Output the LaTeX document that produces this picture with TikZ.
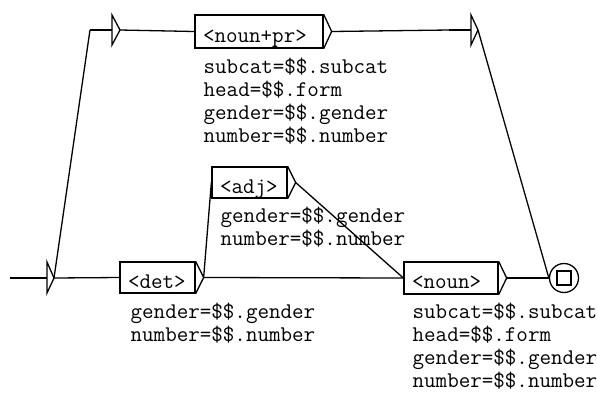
\documentclass[tikz,border=0pt]{standalone}
\usepackage{fontspec}
\newcommand\grfont{\ttfamily\fontsize{22.4}{23}\selectfont}
\newcommand\boxlab[2]{\makebox[#1][l]{#2}}
\begin{document}
\begin{tikzpicture}[x=1pt,y=-1pt,line width=1.3pt,
  box/.style={draw,rectangle,inner xsep=8pt,inner ysep=0pt,font=\grfont,text height=21pt,text depth=0pt},
  outtxt/.style={anchor=base west,inner sep=0pt,font=\grfont},
  tri/.style={line join=miter}]
\path[use as bounding box] (0,0) rectangle (597,392);

% initial state
\coordinate (start) at (10,278);
\coordinate (iin) at (47,278);
\coordinate (iout) at (54,278);
\draw (start) -- (iin);
\draw[tri] (47,262) -- (iout) -- (47,293) -- cycle;

% epsilon box 1
\coordinate (e1in) at (90,30);
\coordinate (e1out) at (120,30);
\draw (e1in) -- (112,30);
\draw[tri] (112,15) -- (e1out) -- (112,45) -- cycle;

% epsilon box 2
\coordinate (e2in) at (449,30);
\coordinate (e2out) at (478,30);
\draw (e2in) -- (471,30);
\draw[tri] (471,15) -- (e2out) -- (471,45) -- cycle;

% boxes
\node[box,minimum height=33pt] (nounpr) at (259,31.5) {\boxlab{112pt}{<noun+pr>}};
\node[box,minimum height=31pt] (adj) at (249.5,182.5) {\boxlab{59pt}{<adj>}};
\node[box,minimum height=31pt] (det) at (157.5,277.5) {\boxlab{59pt}{<det>}};
\node[box,minimum height=32pt] (noun) at (451,278) {\boxlab{78pt}{<noun>}};

\path (nounpr.east) ++(8,0) coordinate (nounprout);
\path (adj.east) ++(8,0) coordinate (adjout);
\path (det.east) ++(8,0) coordinate (detout);
\path (noun.east) ++(8,0) coordinate (nounout);
\draw[tri] (nounpr.north east) -- (nounprout) -- (nounpr.south east);
\draw[tri] (adj.north east) -- (adjout) -- (adj.south east);
\draw[tri] (det.north east) -- (detout) -- (det.south east);
\draw[tri] (noun.north east) -- (nounout) -- (noun.south east);

% final state
\node[draw,circle,minimum size=29pt,inner sep=0pt] (fin) at (564,278) {};
\node[draw,rectangle,minimum size=14pt,inner sep=0pt] (finsq) at (fin.center) {};

% outputs
\node[outtxt] (np1) at (203,73) {subcat=\$\$.subcat};
\node[outtxt] (np2) at (203,96) {head=\$\$.form};
\node[outtxt] (np3) at (203,119) {gender=\$\$.gender};
\node[outtxt] (np4) at (203,142) {number=\$\$.number};

\node[outtxt] (aj1) at (220,222) {gender=\$\$.gender};
\node[outtxt] (aj2) at (220,245) {number=\$\$.number};

\node[outtxt] (dt1) at (130,318) {gender=\$\$.gender};
\node[outtxt] (dt2) at (130,341) {number=\$\$.number};

\node[outtxt] (nn1) at (412,318) {subcat=\$\$.subcat};
\node[outtxt] (nn2) at (412,341) {head=\$\$.form};
\node[outtxt] (nn3) at (412,364) {gender=\$\$.gender};
\node[outtxt] (nn4) at (412,387) {number=\$\$.number};

% transitions
\draw (iout) -- (det.west);
\draw (iout) -- (e1in);
\draw (e1out) -- (nounpr.west);
\draw (nounprout) -- (e2in);
\draw (e2out) -- (fin.west);
\draw (detout) -- (adj.west);
\draw (detout) -- (noun.west);
\draw (adjout) -- (noun.west);
\draw (nounout) -- (fin.west);
\end{tikzpicture}
\end{document}
